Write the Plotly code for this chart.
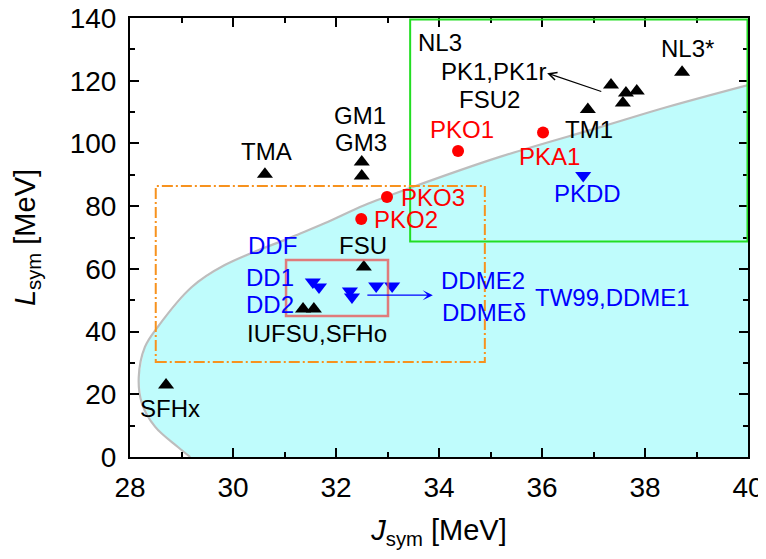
import plotly.graph_objects as go

# ---- boundary curve of allowed (cyan) region ----
curve_J = [29.17, 28.93, 28.49, 28.23, 28.17, 28.29, 28.54, 29.20, 29.84, 31.15, 31.79, 32.55, 33.44, 35.18, 37.13, 38.43, 40.0]
curve_L = [0.0, 3.2, 9.6, 17.2, 25.5, 35.1, 41.5, 54.2, 61.2, 70.2, 74.6, 80.3, 85.8, 95.7, 105.2, 111.6, 118.6]

# ---- black up-triangles (RMF models) ----
tri_J = [30.62, 32.50, 32.50, 32.54, 31.36, 31.57, 28.70, 36.89, 38.72, 37.34, 37.63, 37.84, 37.57]
tri_L = [90.2, 94.1, 89.6, 60.6, 47.2, 47.2, 23.0, 110.8, 122.7, 118.6, 116.1, 116.7, 112.9]

# ---- red circles (PKO / PKA) ----
circ_J = [34.37, 36.02, 32.99, 32.49]
circ_L = [97.6, 103.5, 82.9, 75.9]

# ---- blue down-triangles (DD models) ----
down_J = [36.80, 31.55, 31.67, 32.27, 32.31, 32.78, 33.09]
down_L = [89.8, 55.8, 54.2, 52.9, 51.0, 54.5, 54.5]

# ---- labels ----
black_text = ["NL3", "PK1,PK1r", "FSU2", "TM1", "NL3*", "TMA", "GM1", "GM3", "FSU", "IUFSU,SFHo", "SFHx"]
black_pos = [(34.02, 132.3), (35.05, 123.0), (34.99, 114.0), (36.91, 104.3), (38.82, 130.4), (30.66, 97.3),
             (32.47, 108.9), (32.49, 100.4), (32.52, 67.6), (31.63, 39.5), (28.78, 15.6)]
red_text = ["PKO1", "PKA1", "PKO3", "PKO2"]
red_pos = [(34.45, 104.3), (36.14, 95.7), (33.88, 82.9), (33.36, 75.9)]
blue_text = ["PKDD", "DDF", "DD1", "DD2", "DDME2", "DDMEδ", "TW99,DDME1"]
blue_pos = [(36.89, 83.9), (30.76, 67.3), (30.72, 57.1), (30.72, 48.5), (34.85, 56.2), (34.87, 46.0), (37.36, 50.8)]

FONT = "Arial, Liberation Sans, sans-serif"

fig = go.Figure()

# cyan region
fig.add_trace(go.Scatter(x=curve_J + [40.0, 40.0], y=curve_L + [118.6, 0.0],
                         fill="toself", fillcolor="#bffcfc", line=dict(width=0),
                         mode="lines", hoverinfo="skip", showlegend=False))
fig.add_trace(go.Scatter(x=curve_J, y=curve_L, mode="lines", line=dict(color="#bdbdbd", width=2.2, shape="spline"),
                         hoverinfo="skip", showlegend=False))

fig.add_trace(go.Scatter(x=tri_J, y=tri_L, mode="markers",
                         marker=dict(symbol="triangle-up", size=14, color="black"), showlegend=False))
fig.add_trace(go.Scatter(x=circ_J, y=circ_L, mode="markers",
                         marker=dict(symbol="circle", size=12, color="#ff0000"), showlegend=False))
fig.add_trace(go.Scatter(x=down_J, y=down_L, mode="markers",
                         marker=dict(symbol="triangle-down", size=14, color="#0000ff"), showlegend=False))

# boxes
fig.add_shape(type="rect", x0=33.44, x1=39.99, y0=68.7, y1=139.5, line=dict(color="#22dd22", width=2))
fig.add_shape(type="rect", x0=28.50, x1=34.89, y0=30.3, y1=86.4,
              line=dict(color="#f7921e", width=2, dash="11px,3px,2px,3px"))
fig.add_shape(type="rect", x0=31.03, x1=33.01, y0=45.0, y1=62.8,
              line=dict(color="rgba(235,80,80,0.75)", width=2.5))

LBL = 24
annots = []
for t, (x, y) in zip(black_text, black_pos):
    annots.append(dict(x=x, y=y, text=t, showarrow=False, font=dict(color="black", size=LBL, family=FONT)))
for t, (x, y) in zip(red_text, red_pos):
    annots.append(dict(x=x, y=y, text=t, showarrow=False, font=dict(color="#ff0000", size=LBL, family=FONT)))
for t, (x, y) in zip(blue_text, blue_pos):
    annots.append(dict(x=x, y=y, text=t, showarrow=False, font=dict(color="#0000ff", size=LBL, family=FONT)))

# arrows
annots.append(dict(x=36.10, y=122.4, ax=37.18, ay=116.4, axref="x", ayref="y", xref="x", yref="y",
                   text="", showarrow=True, arrowhead=5, arrowsize=1.3, arrowwidth=1.2, arrowcolor="black"))
annots.append(dict(x=33.88, y=51.6, ax=32.58, ay=51.6, axref="x", ayref="y", xref="x", yref="y",
                   text="", showarrow=True, arrowhead=3, arrowsize=1.3, arrowwidth=1.3, arrowcolor="#0000ff"))

fig.update_layout(
    width=758, height=551,
    margin=dict(l=122, r=18, t=10, b=102, autoexpand=False),
    paper_bgcolor="white", plot_bgcolor="white",
    font=dict(family=FONT, color="black"),
    annotations=annots,
    showlegend=False,
)

axis_common = dict(showgrid=False, zeroline=False, showline=True, linecolor="black", linewidth=2,
                   mirror="ticks", ticks="inside", ticklen=9, tickwidth=2, tickcolor="black",
                   automargin=False, ticklabeloverflow="allow",
                   tickfont=dict(size=28, family=FONT, color="black"))
fig.update_xaxes(range=[28, 40], dtick=2, tick0=28,
                 minor=dict(dtick=1, ticks="inside", ticklen=5, tickwidth=2, tickcolor="black"),
                 title=dict(text="<i>J</i><sub>sym</sub> [MeV]", font=dict(size=29, family=FONT), standoff=18),
                 ticklabelstandoff=4, **axis_common)
fig.update_yaxes(range=[0, 140], dtick=20, tick0=0,
                 minor=dict(dtick=10, ticks="inside", ticklen=5, tickwidth=2, tickcolor="black"),
                 title=dict(text="<i>L</i><sub>sym</sub> [MeV]", font=dict(size=29, family=FONT), standoff=26),
                 ticklabelstandoff=6, **axis_common)

fig.write_html("out.html")
